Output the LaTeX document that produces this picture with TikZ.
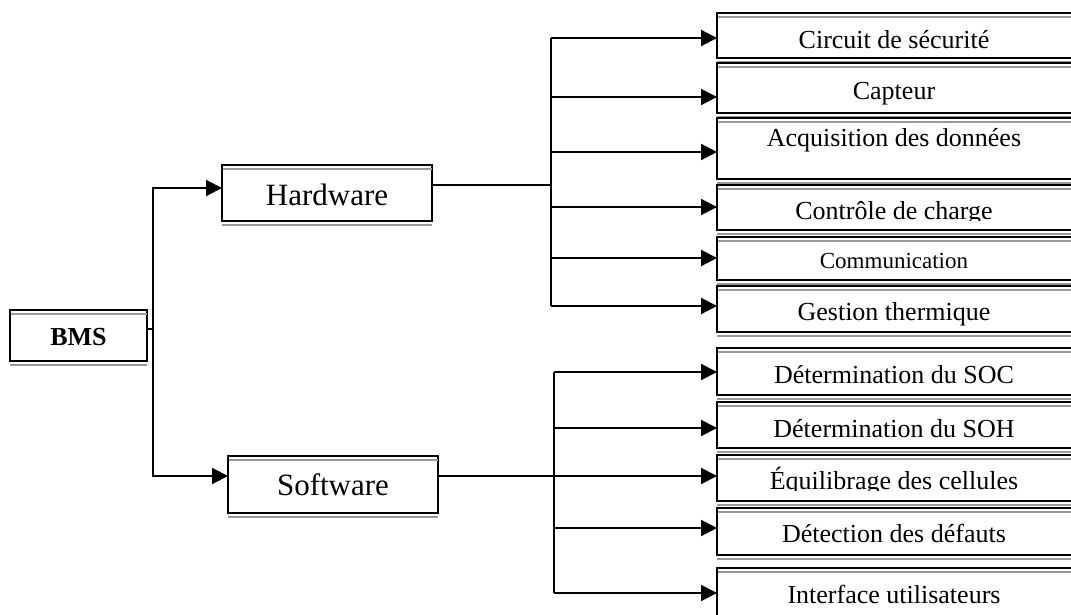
\documentclass[tikz,border=0pt]{standalone}
\usepackage{fontspec}
\setmainfont{Liberation Serif}
\usetikzlibrary{arrows.meta}

% thin grey rules under the top edge and below the bottom edge of a box
\newcommand\trimlines[1]{%
  \draw[trim] ([xshift=1.2pt,yshift=-3.8pt]#1.north west) -- ([yshift=-3.8pt]#1.north east);
  \draw[trim] ([yshift=-3.8pt]#1.south west) -- ([yshift=-3.8pt]#1.south east);}

\begin{document}
\begin{tikzpicture}[x=1pt,y=-1pt,
  frame/.style={draw=black, line width=2.1pt, fill=white, inner sep=0pt, outer sep=0pt},
  link/.style={line width=2.1pt},
  arr/.style={link, -{Triangle[length=16pt,width=16pt]}},
  trim/.style={draw=black!40, line width=1.5pt},
  big/.style={font=\fontsize{31}{36}\selectfont, anchor=base, inner sep=0pt},
  item/.style={font=\fontsize{26}{30}\selectfont, anchor=base, inner sep=0pt},
  small/.style={font=\fontsize{23}{27}\selectfont, anchor=base, inner sep=0pt},
  ]
\useasboundingbox (0,0) rectangle (1071,614);

% ---- left column ----
\node[frame, minimum width=137pt, minimum height=51pt] (bms) at (78.5,335.5) {};
\node[frame, minimum width=210pt, minimum height=56pt] (hw) at (327,193) {};
\node[frame, minimum width=210pt, minimum height=57pt] (sw) at (333,484.5) {};
\foreach \b in {bms,hw,sw} {\trimlines{\b}}
\node[item, font=\fontsize{26}{30}\selectfont\bfseries] (tbms) at (78.5,345) {BMS};
\node[big] (thw) at (327,205) {Hardware};
\node[big] (tsw) at (333,495) {Software};

% ---- function boxes ----
\foreach \n/\cy/\h in {c1/35.5/45, c2/88/50, c3/148.5/61, c4/207.5/45, c5/258.5/43, c6/309/46,
                       s1/371.5/47, s2/425/46, s3/478/46, s4/531.5/47, s5/599/62} {
  \node[frame, minimum width=358pt, minimum height=\h pt] (\n) at (896,\cy) {};
  \trimlines{\n}
}
\node[item] at (894,48) {Circuit de sécurité};
\node[item] at (894,99) {Capteur};
\node[item] at (894,146) {Acquisition des données};
\begin{scope}
  \clip (720,150) rectangle (1071,220.5);
  \node[item] at (894,219) {Contrôle de charge};
\end{scope}
\node[small] at (894,268) {Communication};
\node[item] at (894,320) {Gestion thermique};

\node[item] at (894,383) {Détermination du SOC};
\node[item] at (894,437) {Détermination du SOH};
\begin{scope}
  \clip (720,450) rectangle (1071,490.5);
  \node[item] at (894,489) {Équilibrage des cellules};
\end{scope}
\node[item] at (894,542) {Détection des défauts};
\node[item] at (894,603) {Interface utilisateurs};

% ---- connectors from BMS ----
\coordinate (j0) at (153,329);
\coordinate (jh) at (153,188);
\coordinate (js) at (153,476);
\draw[link] (bms.east |- j0) -- (j0);
\draw[arr] (j0) -- (jh) -- (jh -| hw.west);
\draw[arr] (j0) -- (js) -- (js -| sw.west);

% ---- hardware bus ----
\coordinate (hb) at (551,185);
\draw[link] (hb -| hw.east) -- (hb);
\coordinate (h1) at (551,38);
\coordinate (h2) at (551,97);
\coordinate (h3) at (551,152);
\coordinate (h4) at (551,207);
\coordinate (h5) at (551,258);
\coordinate (h6) at (551,306);
\draw[link] (h1) -- (h6);
\foreach \p/\n in {h1/c1,h2/c2,h3/c3,h4/c4,h5/c5,h6/c6}
  \draw[arr] (\p) -- (\p -| \n.west);

% ---- software bus ----
\coordinate (sb) at (555,476);
\draw[link] (sb -| sw.east) -- (sb);
\coordinate (t1) at (554,372);
\coordinate (t2) at (554,428);
\coordinate (t3) at (554,476);
\coordinate (t4) at (554,528);
\coordinate (t5) at (554,593);
\draw[link] (t1) -- (t5);
\foreach \p/\n in {t1/s1,t2/s2,t3/s3,t4/s4,t5/s5}
  \draw[arr] (\p) -- (\p -| \n.west);
\end{tikzpicture}
\end{document}
